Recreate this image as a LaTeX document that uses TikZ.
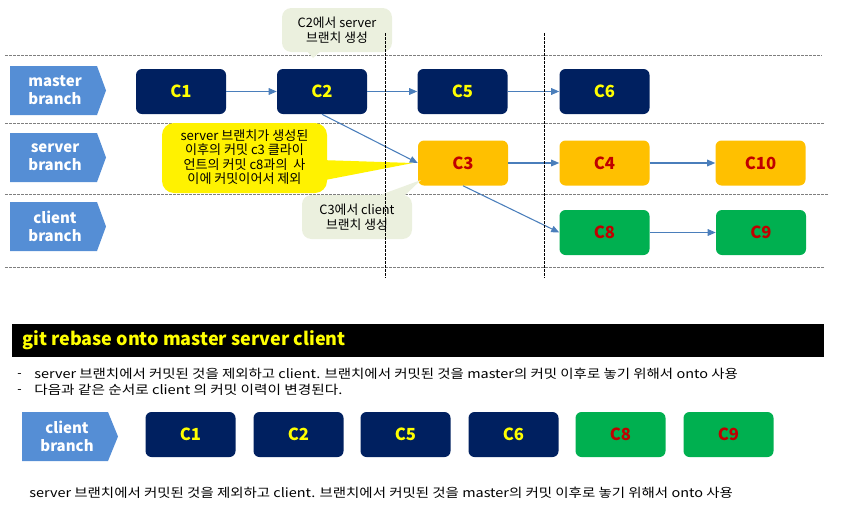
\documentclass[tikz,border=0pt]{standalone}
\usepackage{fontspec}
\usepackage{graphicx}
\setmainfont{Noto Sans CJK KR}
\usetikzlibrary{arrows.meta}
\definecolor{navy}{HTML}{002060}
\definecolor{orangec}{HTML}{FFC000}
\definecolor{greenc}{HTML}{00B050}
\definecolor{redtxt}{HTML}{C00000}
\definecolor{yeltxt}{HTML}{FFFF00}
\definecolor{lblblue}{HTML}{558ED5}
\definecolor{arrowblue}{HTML}{4A7EBB}
\definecolor{notegray}{HTML}{EBF0DE}
\definecolor{dashgray}{HTML}{7F7F7F}
\tikzset{
  commit/.style={rounded corners=4.5pt, minimum width=67.5pt, minimum height=33.75pt, inner sep=0pt, font=\bfseries\fontsize{12.5}{14}\selectfont},
  mcommit/.style={commit, fill=navy, text=yeltxt},
  scommit/.style={commit, fill=orangec, text=redtxt},
  ccommit/.style={commit, fill=greenc, text=redtxt},
  conn/.style={draw=arrowblue, line width=0.8pt, -{Triangle[length=6pt,width=5pt]}},
  hline/.style={draw=dashgray, dash pattern=on 2pt off 1pt, line width=0.6pt},
  vline/.style={draw=black, dash pattern=on 2pt off 1pt, line width=0.75pt},
  lbltext/.style={text=white, align=center, inner sep=0pt, font=\bfseries\fontsize{11.25}{13.7}\selectfont},
  lblshape/.style={fill=lblblue},
  notetext/.style={align=center, inner sep=0pt, font=\fontsize{9.6}{11.6}\selectfont},
  bodytext/.style={anchor=west, inner sep=0pt, font=\fontsize{9.4}{11}\selectfont},
}
\begin{document}
\begin{tikzpicture}[x=0.75pt,y=-0.75pt]
\useasboundingbox (0,0) rectangle (848,518);
% horizontal dashed separators
\coordinate (h1a) at (5,55);  \coordinate (h1b) at (822,55);
\coordinate (h2a) at (5,123); \coordinate (h2b) at (824,123);
\coordinate (h3a) at (5,194); \coordinate (h3b) at (828,194);
\coordinate (h4a) at (5,267); \coordinate (h4b) at (824,267);
\draw[hline] (h1a) -- (h1b);
\draw[hline] (h2a) -- (h2b);
\draw[hline] (h3a) -- (h3b);
\draw[hline] (h4a) -- (h4b);
% branch labels
\fill[lblshape] (10,66) -- (97,66) -- (106,90.5) -- (97,115) -- (10,115) -- cycle;
\node[lbltext] (lmaster) at (55,90.5) {master\\branch};
\fill[lblshape] (10,133) -- (97,133) -- (106,157.5) -- (97,182) -- (10,182) -- cycle;
\node[lbltext] (lserver) at (55,157.5) {server\\branch};
\fill[lblshape] (10,202) -- (97,202) -- (106,226.5) -- (97,251) -- (10,251) -- cycle;
\node[lbltext] (lclient) at (55,226.5) {client\\branch};
% commits
\node[mcommit] (c1) at (181,91.5) {C1};
\node[mcommit] (c2) at (322,91.5) {C2};
\node[mcommit] (c5) at (462.5,91.5) {C5};
\node[mcommit] (c6) at (604.5,91.5) {C6};
\node[scommit] (c3) at (463,163) {C3};
\node[scommit] (c4) at (604.5,163) {C4};
\node[scommit] (c10) at (760.5,163) {C10};
\node[ccommit] (c8) at (604.5,232.5) {C8};
\node[ccommit] (c9) at (761,232.5) {C9};
% connectors
\draw[conn] (c1) -- (c2);
\draw[conn] (c2) -- (c5);
\draw[conn] (c5) -- (c6);
\draw[conn] (c3) -- (c4);
\draw[conn] (c4) -- (c10);
\draw[conn] (c8) -- (c9);
\draw[conn] (c2.south) -- (c3.west);
\draw[conn] (c3.south) -- (c8.west);
% callouts
\fill[notegray] (306,50) -- (313,58) -- (322,50) -- cycle;
\fill[notegray, rounded corners=7pt] (282,8) rectangle (392,52);
\node[notetext] (n1) at (337,30) {C2에서 server\\브랜치 생성};
\fill[yellow] (320,160) -- (413,163) -- (320,181) -- cycle;
\fill[yellow, rounded corners=9pt] (162,123) rectangle (327,193);
\node[notetext, font=\fontsize{9.8}{10.9}\selectfont] (n2) at (244.5,157) {server 브랜치가 생성된\\이후의 커밋 c3 클라이\\언트의 커밋 c8과의~~사\\이에 커밋이어서 제외};
\fill[notegray] (372,198) -- (421,180) -- (402,198) -- cycle;
\fill[notegray, rounded corners=7pt] (302,195) rectangle (412,239);
\node[notetext] (n3) at (357,217) {C3에서 client\\브랜치 생성};
% vertical dashed lines
\coordinate (v1a) at (385,33); \coordinate (v1b) at (385,278);
\coordinate (v2a) at (544,33); \coordinate (v2b) at (544,278);
\draw[vline] (v1a) -- (v1b);
\draw[vline] (v2a) -- (v2b);
% title bar
\fill[black] (12,324) rectangle (824,357);
\node[anchor=west, inner sep=0pt, text=yeltxt, font=\bfseries\fontsize{13.5}{16}\selectfont] (title) at (22,340.5) {git rebase onto master server client};
% bullets
\node[bodytext] (d1) at (17,376) {-};
\node[bodytext] (b1) at (34,374) {\scalebox{1.153}[1]{server 브랜치에서 커밋된 것을 제외하고 client. 브랜치에서 커밋된 것을 master의 커밋 이후로 놓기 위해서 onto 사용}};
\node[bodytext] (d2) at (17,392) {-};
\node[bodytext] (b2) at (34,390) {\scalebox{1.17}[1]{다음과 같은 순서로 client 의 커밋 이력이 변경된다.}};
% rebased branch
\fill[lblshape] (22,412) -- (108,412) -- (118,436.5) -- (108,461) -- (22,461) -- cycle;
\node[lbltext] (lclient2) at (67,436.5) {client\\branch};
\node[mcommit] (r1) at (190.5,434.5) {C1};
\node[mcommit] (r2) at (298.5,434.5) {C2};
\node[mcommit] (r5) at (405.5,434.5) {C5};
\node[mcommit] (r6) at (513.5,434.5) {C6};
\node[ccommit] (r8) at (620.5,434.5) {C8};
\node[ccommit] (r9) at (728.5,434.5) {C9};
% footer
\node[bodytext] (foot) at (29,493) {\scalebox{1.153}[1]{server 브랜치에서 커밋된 것을 제외하고 client. 브랜치에서 커밋된 것을 master의 커밋 이후로 놓기 위해서 onto 사용}};
\end{tikzpicture}
\end{document}
